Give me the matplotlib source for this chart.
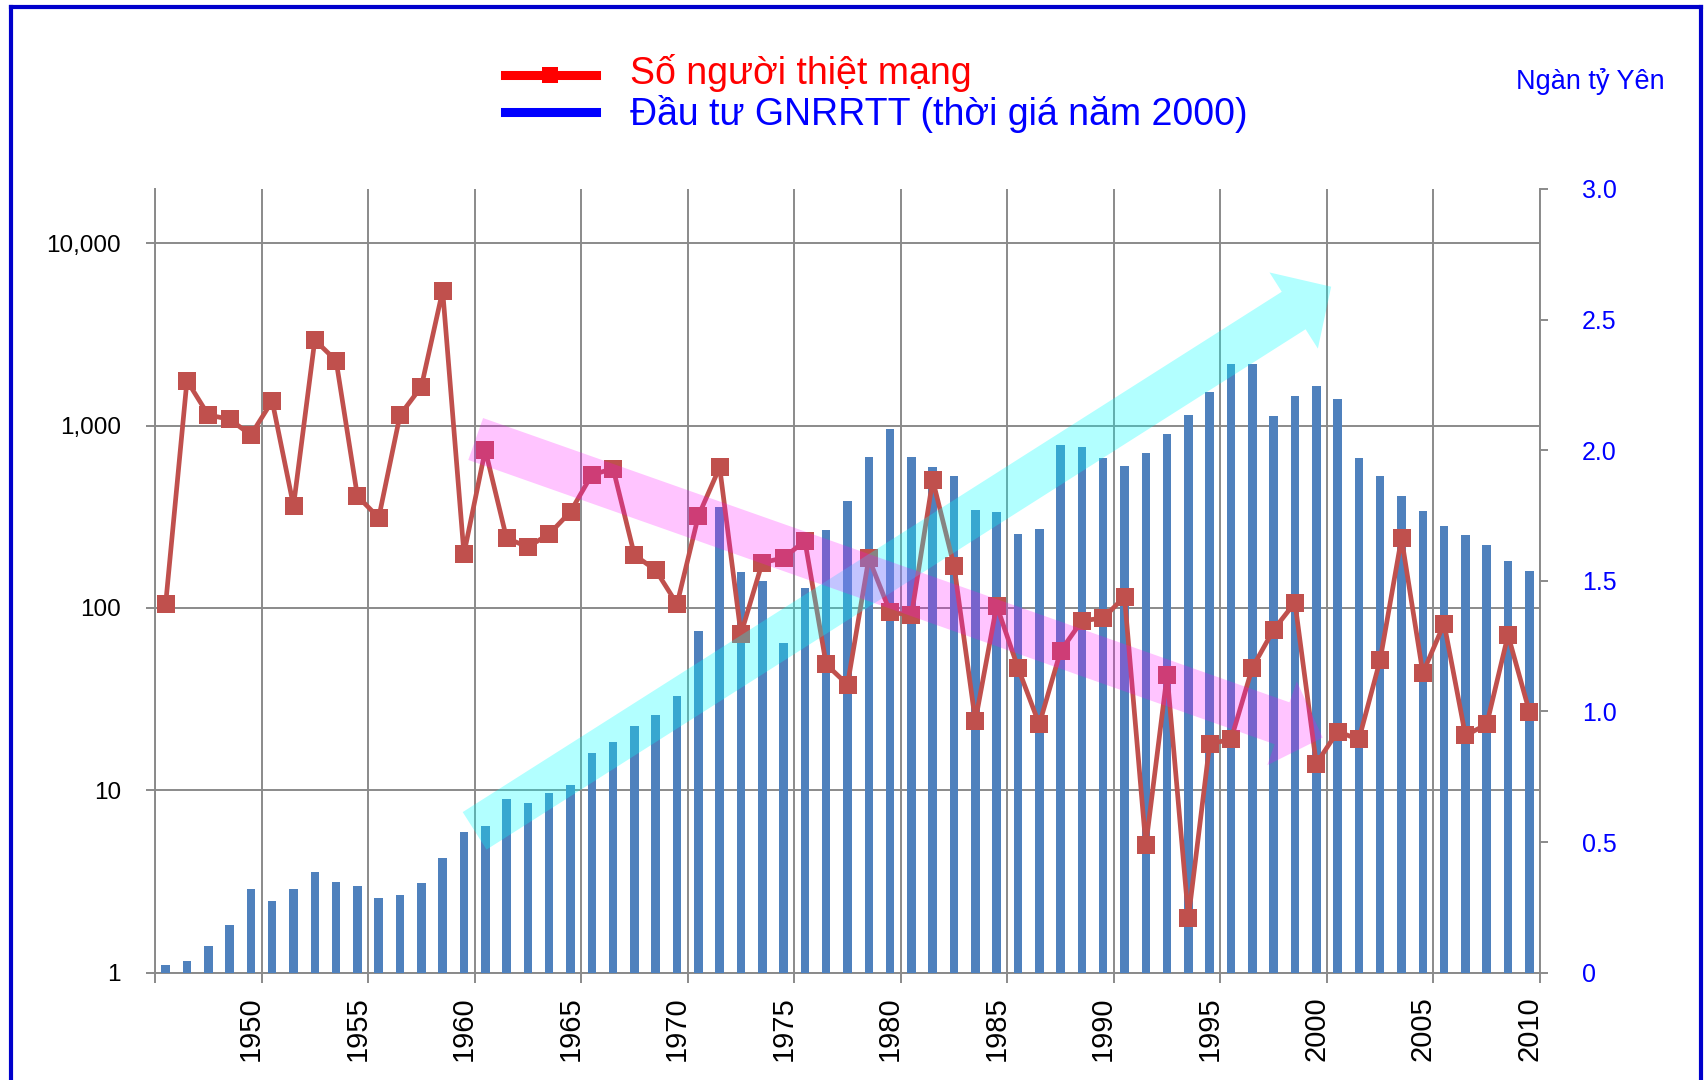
import numpy as np
import matplotlib
matplotlib.use('Agg')
import matplotlib.pyplot as plt
from matplotlib.lines import Line2D
from matplotlib.patches import FancyArrowPatch, ArrowStyle
from matplotlib.ticker import FixedLocator, FuncFormatter, NullLocator

plt.rcParams['font.family'] = ['Liberation Sans', 'DejaVu Sans']

# categories
years = np.arange(1946, 2011)

# deaths (left, log axis)
deaths = [105, 1762, 1142, 1082, 887, 1363, 363, 2943, 2266, 410,
          312, 1142, 1632, 5483, 198, 734, 241, 216, 254, 337,
          537, 580, 195, 161, 105, 319, 590, 72, 177, 188,
          233, 49, 38, 187, 95, 91, 502, 170, 24, 103,
          47, 23, 58, 85, 88, 115, 5, 43, 2, 18,
          19, 47, 76, 107, 14, 21, 19, 52, 241, 44,
          82, 20, 23, 71, 27]

# investment, thousand billion yen (right axis)
invest = [0.031, 0.045, 0.101, 0.183, 0.319, 0.273, 0.320, 0.386, 0.347, 0.331,
          0.285, 0.297, 0.343, 0.439, 0.539, 0.562, 0.665, 0.649, 0.688, 0.717,
          0.840, 0.883, 0.946, 0.988, 1.059, 1.308, 1.784, 1.533, 1.500, 1.263,
          1.474, 1.694, 1.806, 1.976, 2.080, 1.973, 1.935, 1.903, 1.771, 1.763,
          1.678, 1.700, 2.019, 2.013, 1.970, 1.940, 1.988, 2.062, 2.134, 2.223,
          2.330, 2.330, 2.130, 2.208, 2.246, 2.195, 1.969, 1.900, 1.826, 1.766,
          1.711, 1.676, 1.636, 1.576, 1.538]

label_years = [1950, 1955, 1960, 1965, 1970, 1975, 1980, 1985, 1990, 1995, 2000, 2005, 2010]
left_ticks = [1, 10, 100, 1000, 10000]
right_ticks = [0, 0.5, 1.0, 1.5, 2.0, 2.5, 3.0]
right_labels = ['0', '0.5', '1.0', '1.5', '2.0', '2.5', '3.0']

series1 = 'Số người thiệt mạng'
series2 = 'Đầu tư GNRRTT (thời giá năm 2000)'
unit = 'Ngàn tỷ Yên'

W, H = 1706, 1080
grid_c = '#8a8a8a'
fig = plt.figure(figsize=(W / 100, H / 100), dpi=100)
ax = fig.add_axes([155 / W, 1 - 972.7 / H, 1385 / W, 783.7 / H])

ymax = 19800
ax.set_yscale('log')
ax.set_ylim(1, ymax)
ax.set_xlim(1945.5, 2010.5)
ax.yaxis.set_major_locator(FixedLocator(left_ticks))
ax.yaxis.set_minor_locator(NullLocator())
ax.yaxis.set_major_formatter(FuncFormatter(lambda v, p: f'{int(v):,}'))
ax.set_xticks(label_years)
ax.set_xticklabels([str(y) for y in label_years], rotation=90, fontsize=21)
ax.xaxis.set_minor_locator(FixedLocator(np.arange(1945.5, 2011, 5)))
ax.tick_params(axis='x', which='major', length=0, pad=17)
ax.tick_params(axis='x', which='minor', length=7, width=1.4, color=grid_c)
ax.tick_params(axis='y', length=6.5, width=1.4, color=grid_c, labelsize=17.5, pad=18)
ax.grid(True, which='minor', axis='x', color=grid_c, lw=1.4)
ax.grid(True, which='major', axis='y', color=grid_c, lw=1.4)
ax.grid(False, which='major', axis='x')
for s in ['top', 'right']:
    ax.spines[s].set_visible(False)
for s in ['left', 'bottom']:
    ax.spines[s].set_color(grid_c)
    ax.spines[s].set_linewidth(1.4)

# bars on the right axis
axb = ax.twinx()
axb.bar(years, invest, width=0.4, color='#4F81BD', zorder=2)
axb.set_ylim(0, 3.0)
axb.set_yticks(right_ticks)
axb.set_yticklabels(right_labels)
axb.tick_params(axis='y', length=6, width=1.4, color=grid_c, labelsize=18,
                labelcolor='#0000ff', pad=24)
for s in ['top', 'left', 'bottom']:
    axb.spines[s].set_visible(False)
axb.spines['right'].set_color(grid_c)
axb.spines['right'].set_linewidth(1.4)

# line on top
axl = ax.twinx()
axl.set_yscale('log')
axl.set_ylim(1, ymax)
axl.plot(years, deaths, color='#C0504D', lw=3.4, marker='s', ms=13.5,
         markeredgewidth=0, clip_on=False)
axl.axis('off')

# trend arrows
cyan = FancyArrowPatch((1960.5, 0.543), (2000.7, 2.626),
                       arrowstyle=ArrowStyle.Simple(head_length=32, head_width=65, tail_width=32),
                       mutation_scale=1, shrinkA=0, shrinkB=0,
                       transform=axb.transData, color='#00ffff', alpha=0.3, lw=0)
pink = FancyArrowPatch((1960.55, 2.043), (2000.3, 0.90),
                       arrowstyle=ArrowStyle.Simple(head_length=31, head_width=64, tail_width=32),
                       mutation_scale=1, shrinkA=0, shrinkB=0,
                       transform=axb.transData, color='#ff00ff', alpha=0.23, lw=0)
fig.add_artist(cyan)
fig.add_artist(pink)

# legend
fig.add_artist(Line2D([505 / W, 596 / W], [1 - 74.5 / H] * 2, color='#ff0000', lw=6.5))
fig.add_artist(Line2D([550 / W], [1 - 74.5 / H], color='#ff0000', marker='s', ms=11.5, mew=0))
fig.add_artist(Line2D([505 / W, 596 / W], [1 - 112 / H] * 2, color='#0000ff', lw=6.5))
fig.text(630 / W, 1 - 83.5 / H, series1, color='#ff0000', fontsize=27, va='baseline')
fig.text(630 / W, 1 - 125 / H, series2, color='#0000ff', fontsize=27, va='baseline')
fig.text(1516 / W, 1 - 89 / H, unit, color='#0000ff', fontsize=19.5, va='baseline')

# blue frame
fc = '#0000cc'
fig.add_artist(Line2D([11.5 / W, 1701 / W], [1 - 6.5 / H] * 2, color=fc, lw=3))
fig.add_artist(Line2D([11.5 / W] * 2, [0, 1 - 6.5 / H], color=fc, lw=3))
fig.add_artist(Line2D([1701 / W] * 2, [0, 1 - 6.5 / H], color=fc, lw=3))

fig.savefig('out.png', dpi=100)
